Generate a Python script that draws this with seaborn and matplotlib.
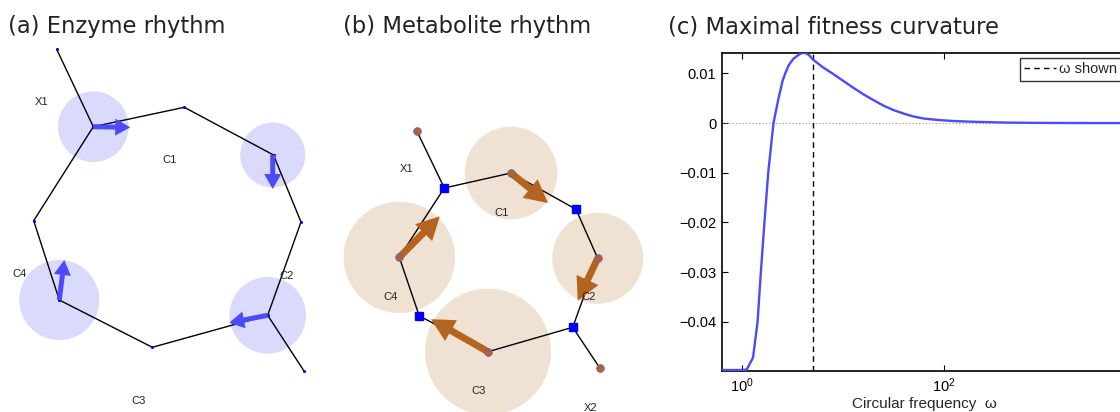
import numpy as np
import pandas as pd
import matplotlib
matplotlib.use("Agg")
import matplotlib.pyplot as plt
from matplotlib.patches import Circle, FancyArrow
from matplotlib.lines import Line2D
import seaborn as sns

# ---------------- data ----------------
# (a) enzyme network (pixel-like diagram coordinates)
enz_x = [93.3, 184.3, 273.5, 301.0, 267.7, 152.3, 59.3, 33.7]
enz_y = [126.7, 107.3, 155.0, 222.0, 315.3, 347.3, 300.0, 220.7]
enz_ext_x = [[56.7, 93.3], [267.7, 304.0]]
enz_ext_y = [[49.3, 126.7], [315.3, 371.0]]
enz_circ_x = [93.3, 272.7, 267.7, 59.3]
enz_circ_y = [126.7, 155.0, 315.3, 300.0]
enz_circ_r = [35.3, 32.5, 38.3, 40.0]
enz_arr_dx = [37.0, 0.0, -38.5, 5.0]
enz_arr_dy = [0.7, 34.0, 7.5, -40.0]
enz_labels = ["X1", "C1", "C4", "C2", "C3"]
enz_lab_x = [41.7, 169.3, 19.3, 286.7, 138.3]
enz_lab_y = [102.3, 160.0, 274.3, 275.7, 400.7]

# (b) metabolite network
met_poly_x = [444.3, 511.0, 576.0, 597.7, 572.7, 488.0, 419.3, 399.3]
met_poly_y = [188.0, 173.0, 209.3, 258.3, 327.3, 351.7, 316.0, 257.3]
met_sq_x = [444.3, 576.0, 572.7, 419.3]
met_sq_y = [188.0, 209.3, 327.3, 316.0]
met_dot_x = [511.0, 597.7, 488.0, 399.3, 416.7, 600.0]
met_dot_y = [173.0, 258.3, 351.7, 257.3, 130.7, 368.3]
met_ext_x = [[416.7, 444.3], [572.7, 600.0]]
met_ext_y = [[130.7, 188.0], [327.3, 368.3]]
met_circ_x = [511.0, 597.7, 488.0, 399.3]
met_circ_y = [173.0, 258.3, 351.7, 257.3]
met_circ_r = [46.3, 45.5, 63.0, 55.7]
met_arr_dx = [37.0, -20.0, -57.0, 40.5]
met_arr_dy = [30.0, 42.5, -32.5, -41.0]
met_labels = ["X1", "C1", "C4", "C2", "C3", "X2"]
met_lab_x = [406.7, 501.7, 390.0, 588.3, 478.3, 590.7]
met_lab_y = [169.3, 212.7, 296.7, 297.3, 390.7, 407.7]

# (c) maximal fitness curvature
omega = [0.63, 1.0, 1.11, 1.28, 1.42, 1.53, 1.66, 1.81, 2.04, 2.29, 2.51,
         2.67, 2.88, 3.2, 3.55, 3.80, 3.98, 4.27, 4.57, 5.01, 5.62, 6.31,
         7.94, 10.0, 12.6, 15.8, 20.0, 25.1, 31.6, 39.8, 50.1, 63.1, 89.1,
         126.0, 200.0, 398.0, 1000.0, 3162.0, 10000.0]
curv = [-0.0497, -0.0497, -0.0496, -0.0472, -0.040, -0.030, -0.020, -0.010,
        0.0, 0.005, 0.0085, 0.010, 0.0116, 0.0129, 0.0136, 0.0140, 0.0141,
        0.01405, 0.0137, 0.0128, 0.0120, 0.0112, 0.0099, 0.0085, 0.0071,
        0.0058, 0.0046, 0.0035, 0.0026, 0.0019, 0.0013, 0.0009, 0.0006,
        0.0004, 0.00025, 0.0001, 0.00003, 0.0, 0.0]
omega_shown = 5.08
yticks = [-0.04, -0.03, -0.02, -0.01, 0.0, 0.01]
ytick_labels = ["\u22120.04", "\u22120.03", "\u22120.02", "\u22120.01", "0", "0.01"]
xticks = [1, 100]
xtick_labels = ["$10^0$", "$10^2$"]
titles = ["(a) Enzyme rhythm", "(b) Metabolite rhythm", "(c) Maximal fitness curvature"]
title_x = [8, 343, 668]

# ---------------- style ----------------
sns.set_theme(style="ticks")
plt.rcParams['font.family'] = ['Liberation Sans', 'DejaVu Sans']
plt.rcParams['mathtext.fontset'] = 'custom'
plt.rcParams['mathtext.rm'] = 'Liberation Sans'
plt.rcParams['mathtext.it'] = 'Liberation Sans'

W, H = 1120, 412
fig = plt.figure(figsize=(W / 100, H / 100), dpi=100)

BLUE_ARROW = "#4b4bfa"
BLUE_CIRC = "#d9dafc"
BROWN = "#b4641e"
TAN = "#f0e2d3"


def diagram_axes(x0, x1):
    ax = fig.add_axes([x0 / W, 0, (x1 - x0) / W, 1])
    ax.set_xlim(x0, x1)
    ax.set_ylim(H, 0)
    ax.axis("off")
    return ax

# ---- (a)
axa = diagram_axes(0, 330)
for cx, cy, r in zip(enz_circ_x, enz_circ_y, enz_circ_r):
    axa.add_patch(Circle((cx, cy), r, color=BLUE_CIRC, lw=0, zorder=1))
px = enz_x + [enz_x[0]]
py = enz_y + [enz_y[0]]
axa.plot(px, py, color="black", lw=1.0, zorder=2)
for ex, ey in zip(enz_ext_x, enz_ext_y):
    axa.plot(ex, ey, color="black", lw=1.0, zorder=2)
axa.plot(enz_x + [56.7, 304.0], enz_y + [49.3, 371.0], ls="none", marker="o",
         ms=1.2, color="blue", zorder=3)
for cx, cy, dx, dy in zip(enz_circ_x, enz_circ_y, enz_arr_dx, enz_arr_dy):
    axa.add_patch(FancyArrow(cx, cy, dx, dy, width=5.0, head_width=17, head_length=15,
                             length_includes_head=True, color=BLUE_ARROW, lw=0, zorder=4))
for t, x, y in zip(enz_labels, enz_lab_x, enz_lab_y):
    axa.text(x, y, t, fontsize=8, ha="center", va="center", color="#222222")

# ---- (b)
axb = diagram_axes(330, 670)
for cx, cy, r in zip(met_circ_x, met_circ_y, met_circ_r):
    axb.add_patch(Circle((cx, cy), r, color=TAN, lw=0, zorder=1))
px = met_poly_x + [met_poly_x[0]]
py = met_poly_y + [met_poly_y[0]]
axb.plot(px, py, color="black", lw=1.0, zorder=2)
for ex, ey in zip(met_ext_x, met_ext_y):
    axb.plot(ex, ey, color="black", lw=1.0, zorder=2)
for cx, cy, dx, dy in zip(met_circ_x, met_circ_y, met_arr_dx, met_arr_dy):
    axb.add_patch(FancyArrow(cx, cy, dx, dy, width=7.0, head_width=24, head_length=23,
                             length_includes_head=True, color=BROWN, lw=0, zorder=3))
axb.plot(met_dot_x, met_dot_y, ls="none", marker="o", ms=5.5, mfc=BROWN,
         mec="#6060d0", mew=0.6, zorder=4)
axb.plot(met_sq_x, met_sq_y, ls="none", marker="s", ms=6, mfc="blue",
         mec="blue", zorder=4)
for t, x, y in zip(met_labels, met_lab_x, met_lab_y):
    axb.text(x, y, t, fontsize=8, ha="center", va="center", color="#222222")

# ---- (c)
left, right, top, bottom = 722, 1126, 53, 371
axc = fig.add_axes([left / W, 1 - bottom / H, (right - left) / W, (bottom - top) / H])
df = pd.DataFrame({"omega": omega, "curv": curv})
axc.axhline(0, color="#999999", ls=(0, (1, 2)), lw=0.8, zorder=1)
axc.axvline(omega_shown, color="black", ls=(0, (4, 3)), lw=1.0, zorder=2)
sns.lineplot(data=df, x="omega", y="curv", ax=axc, color="#4a4aff", lw=1.7,
             zorder=3, legend=False)
axc.set_xscale("log")
axc.set_xlim(10 ** -0.2, 10 ** 3.8)
axc.set_ylim(-0.0499, 0.0141)
axc.set_xticks(xticks)
axc.set_xticklabels(xtick_labels)
axc.minorticks_off()
axc.set_yticks(yticks)
axc.set_yticklabels(ytick_labels)
axc.tick_params(direction="in", length=4, width=0.8, top=True, right=True,
                labelsize=10.5, colors="black", pad=4)
for s in axc.spines.values():
    s.set_linewidth(1.2)
    s.set_color("black")
axc.set_xlabel("Circular frequency  \u03c9", fontsize=11, labelpad=1)
axc.set_ylabel("")
h = Line2D([], [], color="black", ls=(0, (4, 3)), lw=1.0)
leg = axc.legend([h], ["\u03c9 shown"], loc="upper left",
                 bbox_to_anchor=(1020 / W, 1 - 58 / H), bbox_transform=fig.transFigure,
                 borderaxespad=0, fontsize=10.5, frameon=True, fancybox=False,
                 handlelength=2.2, handletextpad=0.2, borderpad=0.3)
leg.get_frame().set_edgecolor("black")
leg.get_frame().set_linewidth(1.0)

# titles
for t, x in zip(titles, title_x):
    fig.text(x / W, 1 - 33 / H, t, fontsize=16.3, ha="left", va="baseline",
             family=["DejaVu Sans"], color="#222222")

fig.savefig("out.png", dpi=100)
